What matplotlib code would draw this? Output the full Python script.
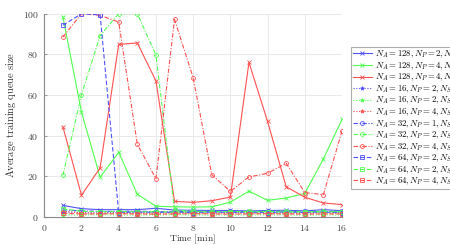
import matplotlib
matplotlib.use("Agg")
import matplotlib.pyplot as plt
from matplotlib.ticker import FuncFormatter

plt.rcParams['mathtext.fontset'] = 'cm'
plt.rcParams['font.family'] = ['DejaVu Serif']

time_min = list(range(1, 17))

na128_np2_s1 = [5.7, 4.1, 3.6, 3.6, 3.6, 4.3, 3.4, 3.3, 3.2, 3.2, 3.0, 3.2, 3.3, 3.0, 3.6, 3.1]
na128_np4_s2 = [98.5, 51.6, 19.6, 31.8, 11.2, 5.3, 5.0, 4.9, 5.0, 7.3, 12.7, 8.2, 9.3, 11.6, 28.6, 48.0]
na128_np4_s4 = [44.4, 10.7, 24.2, 84.9, 85.6, 67.0, 7.7, 7.2, 8.0, 9.8, 76.0, 47.0, 14.9, 9.7, 6.9, 6.1]
na16_np2_s1 = [2.5, 2.2, 2.0, 2.3, 2.2, 2.1, 2.3, 2.2, 2.1, 2.3, 2.2, 2.6, 2.3, 2.2, 2.4, 2.3]
na16_np2_s2 = [0.9, 1.0, 1.1, 1.0, 0.9, 1.0, 1.1, 1.0, 0.9, 1.0, 1.0, 1.1, 1.0, 0.9, 1.0, 1.0]
na16_np4_s4 = [2.8, 2.0, 1.8, 1.9, 1.7, 1.8, 1.9, 1.8, 1.7, 1.9, 1.8, 1.8, 1.7, 1.8, 1.9, 1.8]
na32_np1_s1 = [3.5, 3.0, 2.8, 2.7, 2.9, 2.6, 2.7, 2.8, 2.6, 2.9, 2.7, 2.8, 2.6, 2.9, 2.7, 2.8]
na32_np2_s2 = [20.5, 60.2, 89.2, 100.0, 100.0, 79.7, 3.5, 2.8, 2.7, 2.6, 2.8, 2.7, 2.9, 2.6, 2.8, 2.7]
na32_np4_s4 = [88.5, 100.0, 99.2, 95.9, 35.8, 18.8, 97.2, 68.5, 20.8, 12.6, 19.7, 21.5, 26.4, 12.0, 11.0, 42.3]
na64_np2_s1 = [94.3, 100.0, 99.4, 2.2, 2.5, 2.3, 2.4, 2.2, 2.5, 2.3, 2.4, 2.2, 2.5, 2.3, 2.4, 2.2]
na64_np2_s2 = [4.0, 2.8, 2.6, 2.7, 2.5, 2.6, 2.4, 2.6, 2.5, 2.7, 2.5, 2.6, 2.4, 2.6, 2.5, 2.6]
na64_np4_s4 = [1.8, 1.5, 1.5, 1.6, 1.5, 1.4, 1.5, 1.6, 1.5, 1.4, 1.5, 1.6, 1.5, 1.4, 1.5, 1.5]

series_labels = [
    r'$N_A = 128, N_P = 2, N_S = 1$',
    r'$N_A = 128, N_P = 4, N_S = 2$',
    r'$N_A = 128, N_P = 4, N_S = 4$',
    r'$N_A = 16, N_P = 2, N_S = 1$',
    r'$N_A = 16, N_P = 2, N_S = 2$',
    r'$N_A = 16, N_P = 4, N_S = 4$',
    r'$N_A = 32, N_P = 1, N_S = 1$',
    r'$N_A = 32, N_P = 2, N_S = 2$',
    r'$N_A = 32, N_P = 4, N_S = 4$',
    r'$N_A = 64, N_P = 2, N_S = 1$',
    r'$N_A = 64, N_P = 2, N_S = 2$',
    r'$N_A = 64, N_P = 4, N_S = 4$',
]
series_values = [na128_np2_s1, na128_np4_s2, na128_np4_s4,
                 na16_np2_s1, na16_np2_s2, na16_np4_s4,
                 na32_np1_s1, na32_np2_s2, na32_np4_s4,
                 na64_np2_s1, na64_np2_s2, na64_np4_s4]

colors = ['#5050ff', '#50ff50', '#ff5050']
group_styles = [('-', 'x', True), ((0, (1, 1.5)), '*', True),
                ((0, (4, 1.5, 1, 1.5)), 'o', False), ((0, (4, 2)), 's', False)]

fig = plt.figure(figsize=(4.5, 2.45), dpi=100)
ax = fig.add_axes([0.0984, 0.1143, 0.6616, 0.8298])

for i, (lab, vals) in enumerate(zip(series_labels, series_values)):
    ls, mk, filled = group_styles[i // 3]
    c = colors[i % 3]
    ax.plot(time_min, vals, linestyle=ls, marker=mk, color=c, lw=0.8,
            markersize=2.8, markeredgewidth=0.6,
            markerfacecolor=c if filled else 'none', markeredgecolor=c,
            label=lab)

ax.set_xlim(0, 16)
ax.set_ylim(0, 100)
ax.set_xticks(range(0, 17, 2))
ax.set_yticks(range(0, 101, 20))
fmt = FuncFormatter(lambda v, p: r'$%d$' % v)
ax.xaxis.set_major_formatter(fmt)
ax.yaxis.set_major_formatter(fmt)
ax.tick_params(labelsize=7, length=2, direction='in', color='#999999', labelcolor='#444444', pad=4)
ax.grid(True, color='#e6e6e6', lw=0.6)
ax.set_axisbelow(True)
for s in ['top', 'right']:
    ax.spines[s].set_visible(False)
for s in ['left', 'bottom']:
    ax.spines[s].set_color('#888888')
    ax.spines[s].set_linewidth(0.8)

ax.set_xlabel(r'$\mathrm{Time\ [min]}$', fontsize=7, color='#333333', labelpad=0)
ax.set_ylabel(r'$\mathrm{Average\ training\ queue\ size}$', fontsize=7.5, color='#333333', labelpad=3)

leg = fig.legend(loc='upper left', bbox_to_anchor=(0.78, 0.808), fontsize=6.3,
                 frameon=True, fancybox=False, edgecolor='#999999',
                 handlelength=2.2, handletextpad=0.3, labelspacing=0.0,
                 borderpad=0.2, borderaxespad=0)
leg.get_frame().set_linewidth(0.8)

fig.savefig('out.png', dpi=100)
